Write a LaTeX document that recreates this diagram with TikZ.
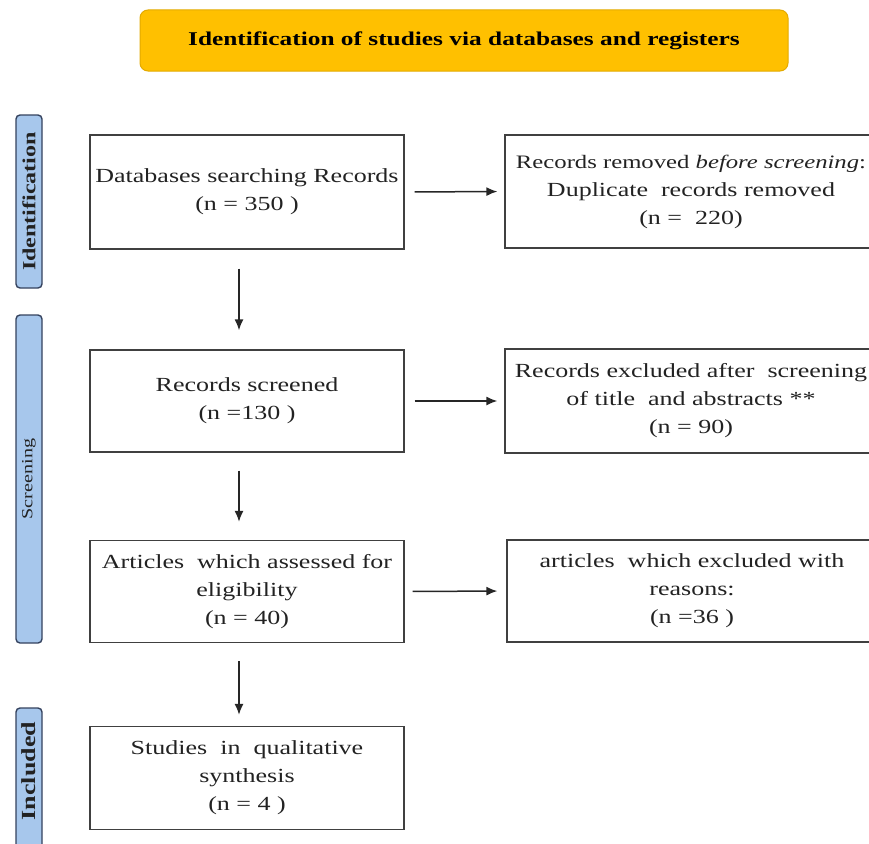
\documentclass[tikz,border=0pt]{standalone}
\usepackage{fontspec}
\setmainfont{Liberation Serif}[FakeStretch=1.3]
\usetikzlibrary{arrows.meta}
\definecolor{gold}{HTML}{FFC000}
\definecolor{goldline}{HTML}{E3AA00}
\definecolor{barfill}{HTML}{A7C7EC}
\definecolor{barline}{HTML}{34425E}
\definecolor{txt}{HTML}{222222}
\begin{document}
\begin{tikzpicture}[x=1pt,y=-1pt,
  box/.style={draw=black!75, line width=1.3pt, minimum width=314pt, align=center,
    font=\fontsize{20}{28}\selectfont, text=txt, inner sep=0pt},
  rbox/.style={box, minimum width=372pt},
  bar/.style={draw=barline, fill=barfill, line width=1.4pt, rounded corners=4pt,
    minimum width=26pt, inner sep=0pt, text=txt},
  arr/.style={line width=1.5pt, draw=black!85, -{Latex[length=11pt,width=9pt]}},
  titlebox/.style={draw=goldline, fill=gold, line width=1pt, rounded corners=8pt,
    minimum width=648pt, minimum height=61pt, inner sep=0pt,
    font=\bfseries\fontsize{19.5}{22}\selectfont, text=black}
]
\useasboundingbox (0,0) rectangle (869,843);
\clip (0,0) rectangle (869,843);

\node[titlebox] (title) at (464,40.5) {Identification of studies via databases and registers};

\node[bar, minimum height=173pt] (s1) at (29,201.5)
  {\rotatebox{90}{\bfseries\fontsize{18.5}{20}\selectfont Identification}};
\node[bar, minimum height=328pt] (s2) at (29,479)
  {\rotatebox{90}{\fontsize{15.5}{18}\selectfont Screening}};
\node[bar, minimum height=150pt] (s3) at (29,783) {};
\node[text=txt, inner sep=0pt] (s3t) at (29,771)
  {\rotatebox{90}{\bfseries\fontsize{20}{22}\selectfont Included}};

\node[box, minimum height=114pt] (b1) at (247,192) {Databases searching Records\\(n = 350 )};
\node[rbox, minimum height=113pt] (r1) at (691,191.5) {{\fontsize{19}{28}\selectfont Records removed \textit{before screening}:}\\Duplicate\ \ records removed\\(n = \ 220)};

\node[box, minimum height=102pt] (b2) at (247,401) {Records screened\\(n =130 )};
\node[rbox, minimum height=104pt] (r2) at (691,401) {Records excluded after\ \ screening\\of title\ \ and abstracts **\\(n = 90)};

\node[box, minimum height=102pt] (b3) at (247,591.5) {Articles\ \ which assessed for\\eligibility\\(n = 40)};
\node[box, minimum width=370pt, minimum height=102pt] (r3) at (692,591) {articles\ \ which excluded with\\reasons:\\(n =36 )};

\node[box, minimum height=103pt] (b4) at (247,778) {Studies\ \ in\ \ qualitative\\synthesis\\(n = 4 )};

\draw[arr, shorten <=10pt, shorten >=7pt] (b1.east) -- (r1.west);
\draw[arr, shorten <=10pt, shorten >=7pt] (b2.east) -- (r2.west);
\draw[arr, shorten <=8pt, shorten >=9pt] (b3.east) -- (r3.west);

\draw[arr, shorten <=19pt, shorten >=19pt] ([xshift=-8pt]b1.south) -- ([xshift=-8pt]b2.north);
\draw[arr, shorten <=18pt, shorten >=18pt] ([xshift=-8pt]b2.south) -- ([xshift=-8pt]b3.north);
\draw[arr, shorten <=18pt, shorten >=11pt] ([xshift=-8pt]b3.south) -- ([xshift=-8pt]b4.north);
\end{tikzpicture}
\end{document}
